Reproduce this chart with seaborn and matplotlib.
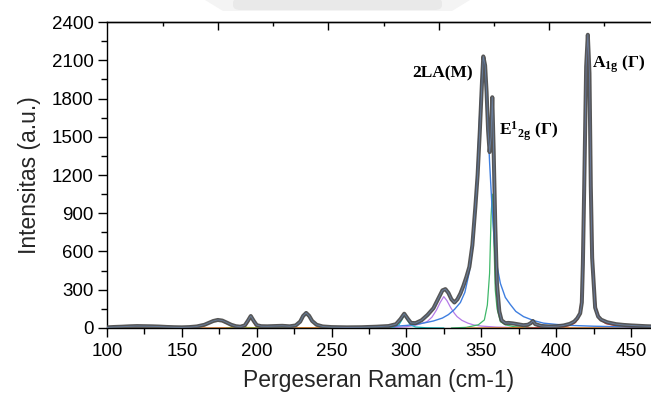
import numpy as np
import pandas as pd
import matplotlib
matplotlib.use("Agg")
import matplotlib.pyplot as plt
import seaborn as sns
from matplotlib.patches import Polygon, FancyBboxPatch
from matplotlib.ticker import MultipleLocator, FixedLocator, NullFormatter

# ---------------- data ----------------
shift_meas = [100, 105, 110, 115, 120, 125, 130, 135, 140, 145, 150, 155, 160, 165, 168, 171, 174, 177,
              180, 183, 186, 189, 192, 194, 196, 198, 200, 203, 207, 212, 217, 222, 226, 229, 231, 233,
              235, 237, 240, 244, 250, 260, 270, 280, 288, 293, 296, 298.5, 301, 303, 306, 310, 314,
              318, 321, 324, 326, 328, 330, 332, 334, 336, 338, 340, 342, 344, 346, 347.5, 349, 350.5,
              351.3, 352.5, 353.5, 354.5, 355.5, 356.5, 357.3, 358.2, 359.3, 360.4, 362, 363.5, 366,
              368, 371, 375, 378, 381, 383, 384.4, 386, 390, 395, 400, 405, 409, 412, 414, 416, 417.1,
              417.8, 418.7, 420, 421.1, 422.2, 423.1, 424, 426, 428, 430, 434, 440, 445, 450, 455, 460, 465]
int_meas = [5, 8, 10, 13, 15, 14, 13, 11, 8, 6, 5, 7, 12, 25, 40, 55, 63, 58,
            42, 25, 14, 10, 20, 55, 94, 55, 22, 14, 13, 15, 17, 13, 20, 50, 95, 118,
            95, 55, 25, 12, 7, 5, 6, 10, 15, 30, 70, 112, 70, 40, 38, 60, 102,
            155, 225, 295, 305, 275, 225, 200, 225, 270, 330, 400, 480, 650, 950, 1200, 1550, 1950,
            2130, 2060, 1850, 1550, 1380, 1500, 1810, 1400, 800, 350, 130, 60, 38,
            40, 36, 28, 22, 25, 38, 55, 30, 16, 12, 13, 20, 32, 50, 75, 115, 200,
            500, 1108, 2050, 2300, 2000, 1108, 550, 160, 90, 65, 45, 30, 24, 20, 17, 14, 12]

# fitted components
shift_2la = [280, 290, 300, 306, 312, 318, 324, 328, 332, 336, 339, 342, 344, 346, 347.5, 349, 350.5,
             351.5, 352.5, 354, 355.5, 357.1, 359.3, 362.7, 366, 369.3, 373, 378.2, 385, 391.5, 400,
             410, 425, 445, 465]
int_2la = [8, 12, 20, 28, 40, 55, 78, 105, 145, 200, 280, 440, 620, 950, 1300, 1700, 2020,
           2110, 2060, 1700, 1300, 951, 560, 350, 240, 185, 130, 89, 58, 38, 28,
           20, 14, 9, 6]

shift_e2g = [330, 340, 348, 352, 354, 355.5, 356.5, 357.3, 358.2, 359.3, 360.5, 362.7, 366, 372, 385, 400]
int_e2g = [0, 5, 25, 63, 180, 429, 880, 1050, 750, 298, 150, 50, 25, 10, 3, 0]

shift_326 = [255, 290, 300, 306, 310, 313.8, 317, 320, 322.5, 324.9, 327, 329.5, 332, 333.8, 337,
             341, 344.9, 350, 360, 375, 390]
int_326 = [0, 3, 10, 22, 35, 50, 85, 140, 200, 246, 215, 160, 115, 89, 60, 38, 24, 15, 7, 3, 0]

shift_299 = [270, 285, 292, 295, 297, 298.7, 300.5, 302.5, 306, 313, 325]
int_299 = [0, 2, 8, 25, 65, 112, 65, 25, 8, 2, 0]

shift_a1g = [380, 395, 405, 410, 413, 415.5, 417.5, 418.7, 420, 421.1, 422.2, 423.1, 424.5, 426.5,
             429, 433, 440, 450, 465]
int_a1g = [0, 3, 10, 22, 45, 100, 300, 1100, 2000, 2290, 2000, 1100, 450, 160, 70, 35, 16, 8, 4]

shift_174 = [100, 150, 160, 165, 168, 171, 174, 177, 180, 183, 188, 200, 260]
int_174 = [0, 2, 6, 18, 35, 52, 60, 52, 35, 18, 6, 2, 0]

shift_196 = [150, 185, 190, 193, 194.5, 196, 197.5, 199, 202, 210, 250]
int_196 = [0, 2, 6, 22, 55, 90, 55, 22, 6, 2, 0]

shift_233 = [180, 215, 222, 227, 230, 233, 236, 239, 244, 252, 290]
int_233 = [0, 3, 8, 28, 75, 112, 75, 28, 8, 3, 0]

shift_384 = [340, 370, 378, 381, 383, 384.4, 386, 388, 392, 400, 465]
int_384 = [0, 2, 6, 15, 35, 45, 30, 12, 5, 2, 0]

# peak labels
label_2la = "2LA(M)"
label_e2g = r"$\mathbf{E^{1}{}_{2g}}$ (Γ)"
label_a1g = r"$\mathbf{A_{1g}}$ (Γ)"

x_label = "Pergeseran Raman (cm-1)"
y_label = "Intensitas (a.u.)"
x_limits = (100, 463.3)
y_limits = (0, 2400)
top_major_ticks = [174.2, 247.9, 321.6, 395.3]
top_minor_ticks = [137.3, 211.0, 284.7, 358.4, 432.1]

# ---------------- plotting ----------------
sns.set_style("ticks")
plt.rcParams["font.family"] = ["Liberation Sans", "DejaVu Sans"]
plt.rcParams["mathtext.fontset"] = "custom"
plt.rcParams["mathtext.bf"] = "Liberation Serif:bold"
plt.rcParams["mathtext.rm"] = "Liberation Serif"

fig = plt.figure(figsize=(6.51, 3.98), dpi=100)
ax = fig.add_axes([0.1644, 0.1759, 1 - 0.1644, 0.9447 - 0.1759])

def line(xs, ys, color, lw, alpha=1.0, z=2):
    df = pd.DataFrame({"x": xs, "y": ys})
    sns.lineplot(data=df, x="x", y="y", ax=ax, color=color, lw=lw, alpha=alpha,
                 estimator=None, sort=False, zorder=z, legend=False)

# baseline-coloured components
line(shift_174, int_174, "#d9a22b", 0.9, z=2)
line(shift_196, int_196, "#e8822e", 0.9, z=2)
line(shift_233, int_233, "#9aa83a", 0.9, z=2)
line(shift_326, int_326, "#b57be8", 0.9, z=2)
line(shift_299, int_299, "#19c2c2", 0.9, z=2)
line(shift_e2g, int_e2g, "#3fb86a", 0.9, z=2)
line(shift_384, int_384, "#e8822e", 0.9, z=2)
line(shift_a1g, int_a1g, "#f03c3c", 0.9, z=2)
line(shift_2la, int_2la, "#3f7fe0", 1.0, z=2)

# measured spectrum
line(shift_meas, int_meas, "#4d4d4d", 2.9, alpha=0.95, z=3)
# cumulative fit overlay
line(shift_meas, int_meas, "#7aa3e0", 0.7, alpha=0.5, z=4)

ax.set_xlim(*x_limits)
ax.set_ylim(*y_limits)
ax.xaxis.set_major_locator(MultipleLocator(50))
ax.xaxis.set_minor_locator(MultipleLocator(25))
ax.yaxis.set_major_locator(MultipleLocator(300))
ax.yaxis.set_minor_locator(MultipleLocator(150))
ax.tick_params(axis="both", which="major", direction="out", length=6.5, width=1.0,
               labelsize=13.5, color="black", labelcolor="black", pad=3)
ax.tick_params(axis="both", which="minor", direction="out", length=4.5, width=1.0, color="black")
ax.tick_params(axis="x", which="major", pad=4)

for s in ["left", "bottom", "top"]:
    ax.spines[s].set_visible(True)
    ax.spines[s].set_linewidth(1.0)
    ax.spines[s].set_color("black")
ax.spines["right"].set_visible(False)

ax.set_xlabel(x_label, fontsize=16.5, labelpad=7)
ax.set_ylabel(y_label, fontsize=16.5, labelpad=8)

# top axis ticks (inward)
top = ax.secondary_xaxis("top")
top.xaxis.set_major_locator(FixedLocator(top_major_ticks))
top.xaxis.set_minor_locator(FixedLocator(top_minor_ticks))
top.xaxis.set_major_formatter(NullFormatter())
top.tick_params(which="major", direction="in", length=6, width=1.0, color="black")
top.tick_params(which="minor", direction="in", length=3, width=1.0, color="black")
top.spines["top"].set_linewidth(1.0)

# peak annotations
ann = dict(fontfamily="Liberation Serif", fontweight="bold", fontsize=12.5, color="black", zorder=6)
ax.text(323.8, 1997, label_2la, ha="center", va="center", **ann)
ax.text(361.5, 1540, label_e2g, ha="left", va="center", **ann)
ax.text(424, 2070, label_a1g, ha="left", va="center", **ann)

# faint decoration at the very top of the picture
W, H = 651, 398
fig.patches.append(Polygon([[205 / W, 1], [470 / W, 1], [452 / W, 1 - 11 / H], [223 / W, 1 - 11 / H]],
                           closed=True, transform=fig.transFigure, facecolor="#f4f4f4",
                           edgecolor="none", zorder=0))
fig.patches.append(FancyBboxPatch((233 / W, 1 - 10 / H), (442 - 233) / W, 12 / H,
                                  boxstyle="round,pad=0,rounding_size=0.012",
                                  transform=fig.transFigure, facecolor="#e9e9e9",
                                  edgecolor="none", zorder=0))

fig.savefig("out.png", dpi=100)
